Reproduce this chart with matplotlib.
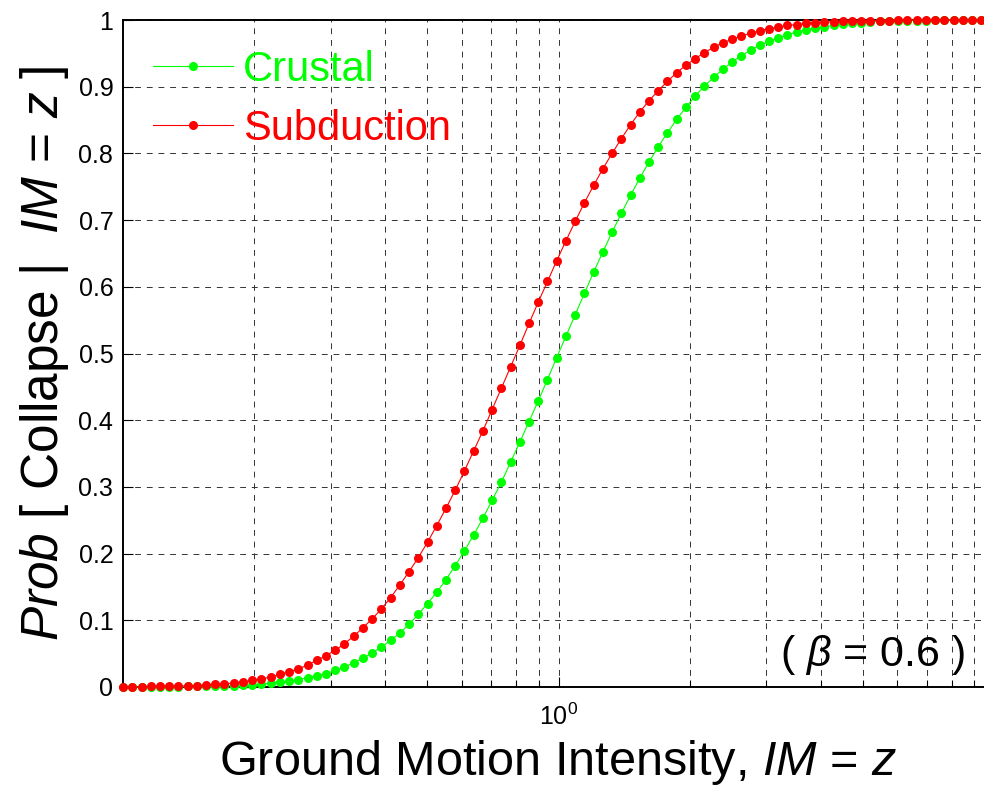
import matplotlib
matplotlib.use("Agg")
import matplotlib.pyplot as plt
from matplotlib.ticker import FixedLocator, NullFormatter

plt.rcParams["font.family"] = ["Liberation Sans", "DejaVu Sans"]
plt.rcParams["mathtext.fontset"] = "custom"
plt.rcParams["mathtext.rm"] = "Liberation Sans"
plt.rcParams["mathtext.it"] = "Liberation Sans:italic"

# ground motion intensity samples
im = [0.1000, 0.1050, 0.1103, 0.1158, 0.1216, 0.1276, 0.1340, 0.1407, 0.1477, 0.1551,
      0.1629, 0.1710, 0.1796, 0.1886, 0.1980, 0.2079, 0.2183, 0.2292, 0.2407, 0.2527,
      0.2653, 0.2786, 0.2925, 0.3072, 0.3225, 0.3386, 0.3556, 0.3733, 0.3920, 0.4116,
      0.4322, 0.4538, 0.4765, 0.5003, 0.5253, 0.5516, 0.5792, 0.6081, 0.6385, 0.6705,
      0.7040, 0.7392, 0.7762, 0.8150, 0.8557, 0.8985, 0.9434, 0.9906, 1.0401, 1.0921,
      1.1467, 1.2041, 1.2643, 1.3275, 1.3939, 1.4636, 1.5367, 1.6136, 1.6943, 1.7790,
      1.8679, 1.9613, 2.0594, 2.1623, 2.2705, 2.3840, 2.5032, 2.6283, 2.7598, 2.8978,
      3.0426, 3.1948, 3.3545, 3.5222, 3.6984, 3.8833, 4.0774, 4.2813, 4.4954, 4.7201,
      4.9561, 5.2040, 5.4641, 5.7374, 6.0242, 6.3254, 6.6417, 6.9738, 7.3225, 7.6886,
      8.0730, 8.4767, 8.9005, 9.3455, 9.8128]

crustal = [0.000, 0.000, 0.000, 0.000, 0.000, 0.000, 0.000, 0.001, 0.001, 0.001,
           0.001, 0.002, 0.002, 0.003, 0.003, 0.004, 0.006, 0.007, 0.009, 0.011,
           0.014, 0.017, 0.020, 0.025, 0.030, 0.036, 0.043, 0.051, 0.060, 0.070,
           0.081, 0.094, 0.109, 0.125, 0.142, 0.161, 0.182, 0.204, 0.228, 0.253,
           0.280, 0.307, 0.337, 0.367, 0.398, 0.429, 0.461, 0.494, 0.526, 0.558,
           0.590, 0.622, 0.652, 0.682, 0.710, 0.737, 0.763, 0.787, 0.810, 0.831,
           0.851, 0.869, 0.886, 0.901, 0.914, 0.926, 0.937, 0.946, 0.955, 0.962,
           0.968, 0.973, 0.978, 0.982, 0.985, 0.988, 0.990, 0.992, 0.994, 0.995,
           0.996, 0.997, 0.998, 0.998, 0.999, 0.999, 0.999, 0.999, 1.000, 1.000,
           1.000, 1.000, 1.000, 1.000, 1.000]

subduction = [0.000, 0.000, 0.000, 0.001, 0.001, 0.001, 0.001, 0.002, 0.002, 0.003,
              0.004, 0.005, 0.006, 0.008, 0.010, 0.012, 0.015, 0.019, 0.023, 0.027,
              0.033, 0.040, 0.047, 0.055, 0.065, 0.076, 0.089, 0.102, 0.117, 0.134,
              0.153, 0.173, 0.194, 0.217, 0.242, 0.268, 0.295, 0.324, 0.354, 0.384,
              0.416, 0.448, 0.480, 0.512, 0.545, 0.577, 0.608, 0.639, 0.669, 0.698,
              0.726, 0.752, 0.777, 0.800, 0.822, 0.843, 0.862, 0.879, 0.894, 0.908,
              0.921, 0.932, 0.942, 0.951, 0.959, 0.966, 0.971, 0.976, 0.980, 0.984,
              0.987, 0.989, 0.992, 0.993, 0.995, 0.996, 0.997, 0.997, 0.998, 0.998,
              0.999, 0.999, 0.999, 0.999, 1.000, 1.000, 1.000, 1.000, 1.000, 1.000,
              1.000, 1.000, 1.000, 1.000, 1.000]

ytick_vals = [0, 0.1, 0.2, 0.3, 0.4, 0.5, 0.6, 0.7, 0.8, 0.9, 1]
ytick_labels = ["0", "0.1", "0.2", "0.3", "0.4", "0.5", "0.6", "0.7", "0.8", "0.9", "1"]
xminor = [0.2, 0.3, 0.4, 0.5, 0.6, 0.7, 0.8, 0.9, 2, 3, 4, 5, 6, 7, 8, 9]

fig = plt.figure(figsize=(9.84, 7.89), dpi=100)
# right edge of the axes sits just past the figure edge, as in the cropped original
ax = fig.add_axes([123 / 984, 102 / 789, 871 / 984, 667 / 789])

ax.plot(im, crustal, "-o", color="#00ff00", lw=0.8, ms=6.5, mew=0,
        label="Crustal", clip_on=False, zorder=3)
ax.plot(im, subduction, "-o", color="#ff0000", lw=0.8, ms=6.5, mew=0,
        label="Subduction", clip_on=False, zorder=4)

ax.set_xscale("log")
ax.set_xlim(0.1, 10)
ax.set_ylim(0, 1)

ax.xaxis.set_major_locator(FixedLocator([1]))
ax.set_xticklabels(["$10^{0}$"])
ax.xaxis.set_minor_locator(FixedLocator(xminor))
ax.xaxis.set_minor_formatter(NullFormatter())
ax.set_yticks(ytick_vals)
ax.set_yticklabels(ytick_labels)
ax.tick_params(which="both", direction="in", width=0.8, top=False, right=False)
ax.tick_params(which="major", length=7)
ax.tick_params(which="minor", length=5)
ax.tick_params(axis="y", labelsize=18, pad=7)
ax.tick_params(axis="x", labelsize=18, pad=12)

grid_kw = dict(color="0.2", lw=0.7, linestyle=(0, (6, 6)))
ax.grid(True, which="both", axis="x", **grid_kw)
ax.grid(True, which="major", axis="y", **grid_kw)

for s in ax.spines.values():
    s.set_linewidth(1.4)

ax.set_xlabel("Ground Motion Intensity, $\\it{IM}$ = $\\it{z}$", fontsize=35, va="baseline")
ax.xaxis.set_label_coords(0.5, -0.132)
ax.set_ylabel("$\\it{Prob}$ [ Collapse |  $\\it{IM}$ = $\\it{z}$ ]", fontsize=37, va="baseline")
ax.yaxis.set_label_coords(-0.075, 0.5)

ax.text(0.967, 0.048, "( $\\it{\\beta}$ = 0.6 )", transform=ax.transAxes,
        ha="right", va="center", fontsize=31)

leg = ax.legend(loc="upper left", bbox_to_anchor=(0.034, 0.955), frameon=False,
                fontsize=30, numpoints=1, handlelength=1.92, handletextpad=0.24,
                labelspacing=0.45, borderpad=0, borderaxespad=0, labelcolor="linecolor")

fig.savefig("out.png", dpi=100)
